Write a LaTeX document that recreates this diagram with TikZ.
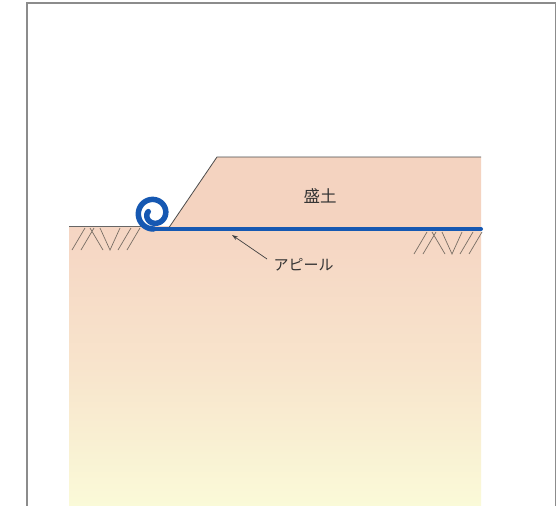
\documentclass[tikz,border=0pt]{standalone}
\usepackage{fontspec}
\newfontfamily\jpfont{Noto Sans CJK JP}
\usetikzlibrary{arrows.meta}
\definecolor{fillpink}{RGB}{244,211,192}
\definecolor{groundtop}{RGB}{245,213,195}
\definecolor{groundmid}{RGB}{248,228,204}
\definecolor{groundbot}{RGB}{250,250,216}
\definecolor{sheetblue}{RGB}{22,88,178}
\definecolor{framegray}{RGB}{140,140,140}
\definecolor{hatchgray}{RGB}{120,110,100}
\tikzset{
  frameline/.style={draw=framegray, line width=1.2pt},
  outline/.style={draw=black!70, line width=0.8pt},
  hatchline/.style={draw=hatchgray, line width=0.7pt},
  sheet/.style={draw=sheetblue, line width=4pt},
  label/.style={font=\jpfont, text=black!80},
  pointer/.style={draw=black!75, line width=0.7pt, -{Stealth[length=6pt,width=4pt]}}
}
\begin{document}
\begin{tikzpicture}[x=1pt,y=-1pt]
\useasboundingbox (0,0) rectangle (557,506);
\fill[white] (0,0) rectangle (557,506);
% outer frame
\draw[frameline] (27,506) -- (27,3) -- (555.5,3) -- (555.5,506);
% ground body with gradient
\shade[top color=groundtop, bottom color=groundbot, middle color=groundmid]
  (69,226) rectangle (481,506);
% embankment
\fill[fillpink] (168,229) -- (217,157) -- (481,157) -- (481,229) -- cycle;
\draw[outline] (168,229) -- (217,157) -- (481,157);
% natural ground surface on the left
\draw[outline, draw=black!60, line width=0.7pt] (69,226) -- (150,226);
% hatching (left group)
\begin{scope}[shift={(72,228)}]
  \draw[hatchline] (0,22) -- (13,0) (9,22) -- (22,0) (18,0) -- (31,22)
    (28,0) -- (38,22) -- (48,0) (46,22) -- (59,0) (55,22) -- (68,0);
\end{scope}
% hatching (right group)
\begin{scope}[shift={(414,232)}]
  \draw[hatchline] (0,22) -- (13,0) (9,22) -- (22,0) (18,0) -- (31,22)
    (28,0) -- (38,22) -- (48,0) (46,22) -- (59,0) (55,22) -- (68,0);
\end{scope}
% sheet laid along the ground, rolled at its end
\draw[sheet, line cap=round] (481,229) -- (153,229);
\draw[sheet, line width=5.5pt, line cap=round]
  plot[domain=0:470, samples=120, smooth]
  ({153.5 + (15.5 - 10*(\x/470)^2)*cos(270-\x)},
   {213.5 - (15.5 - 10*(\x/470)^2)*sin(270-\x)});
% labels
\node[label, font=\jpfont\fontsize{16.5}{16.5}\selectfont] (fill) at (320,196) {盛土};
\node[label, font=\jpfont\fontsize{15}{15}\selectfont, anchor=west] (sheetlabel) at (270,265) {アピール};
\coordinate (tip) at (232,235);
\draw[pointer] (sheetlabel.west) ++(-3,-6) coordinate (tail) -- (tip);
\end{tikzpicture}
\end{document}
